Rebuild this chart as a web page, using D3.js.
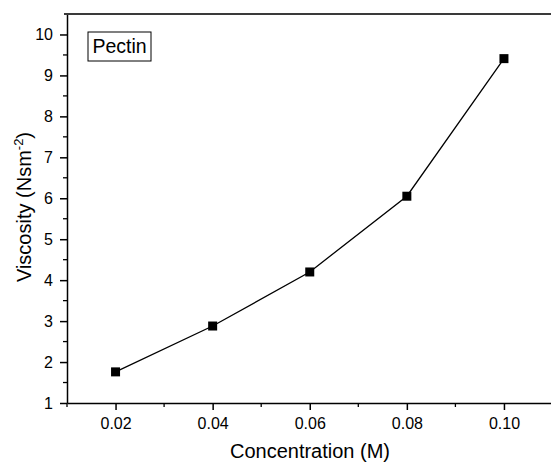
<!DOCTYPE html>
<html>
<head>
<meta charset="utf-8">
<script src="https://cdn.jsdelivr.net/npm/d3@7"></script>
<style>
  body { margin: 0; background: #fff; }
  svg { display: block; font-family: "Liberation Sans", Arial, sans-serif; }
  .axis path, .axis line { stroke: #000; }
</style>
</head>
<body>
<svg id="chart" width="551" height="462"></svg>
<script>
const concentration = [0.02, 0.04, 0.06, 0.08, 0.10];
const viscosity = [1.76, 2.88, 4.20, 6.05, 9.41];
const xTicks = [0.02, 0.04, 0.06, 0.08, 0.10];
const yTicks = [1, 2, 3, 4, 5, 6, 7, 8, 9, 10];

const svg = d3.select('#chart');
const plotL = 67, plotR = 552.5, plotT = 14, plotB = 403;

const x = d3.scaleLinear().domain([0.01, 0.11]).range([plotL, plotR]);
const y = d3.scaleLinear().domain([1, 10.5]).range([plotB, plotT]);

// minor ticks
const xMinor = d3.range(0.01, 0.111, 0.01).filter(v => !xTicks.some(t => Math.abs(t - v) < 1e-9));
const yMinor = d3.range(1.5, 10.5, 1);

svg.append('g')
  .selectAll('line')
  .data(xMinor)
  .join('line')
  .attr('x1', d => x(d)).attr('x2', d => x(d))
  .attr('y1', plotB).attr('y2', plotB + 4)
  .attr('stroke', '#000').attr('stroke-width', 1.3);

svg.append('g')
  .selectAll('line')
  .data(yMinor)
  .join('line')
  .attr('x1', plotL - 4).attr('x2', plotL)
  .attr('y1', d => y(d)).attr('y2', d => y(d))
  .attr('stroke', '#000').attr('stroke-width', 1.3);

const xAxis = svg.append('g')
  .attr('class', 'axis')
  .attr('transform', `translate(0,${plotB})`)
  .call(d3.axisBottom(x).tickValues(xTicks).tickSize(7).tickPadding(8).tickFormat(d3.format('.2f')).tickSizeOuter(0));
xAxis.selectAll('path, line').attr('stroke-width', 1.5);

const yAxis = svg.append('g')
  .attr('class', 'axis')
  .attr('transform', `translate(${plotL},0)`)
  .call(d3.axisLeft(y).tickValues(yTicks).tickSize(7).tickPadding(7).tickFormat(d3.format('d')).tickSizeOuter(0));
yAxis.selectAll('path, line').attr('stroke-width', 1.5);

svg.selectAll('.axis')
  .attr('font-family', '"Liberation Sans", Arial, sans-serif')
  .attr('font-size', 16);

// top frame line
svg.append('line')
  .attr('x1', plotL - 3).attr('x2', 551)
  .attr('y1', plotT).attr('y2', plotT)
  .attr('stroke', '#3a3a3a').attr('stroke-width', 2);

const pts = concentration.map((c, i) => ({c, v: viscosity[i]}));

svg.append('path')
  .datum(pts)
  .attr('fill', 'none')
  .attr('stroke', '#000')
  .attr('stroke-width', 1.3)
  .attr('d', d3.line().x(d => x(d.c)).y(d => y(d.v)));

svg.append('g')
  .selectAll('rect')
  .data(pts)
  .join('rect')
  .attr('x', d => x(d.c) - 4.5)
  .attr('y', d => y(d.v) - 4.5)
  .attr('width', 9).attr('height', 9)
  .attr('fill', '#000');

// axis titles
svg.append('text')
  .attr('x', 310)
  .attr('y', 458)
  .attr('text-anchor', 'middle')
  .attr('font-size', 20)
  .text('Concentration (M)');

const yl = svg.append('text')
  .attr('transform', 'translate(31,207) rotate(-90)')
  .attr('text-anchor', 'middle')
  .attr('font-size', 20);
yl.append('tspan').text('Viscosity (Nsm');
yl.append('tspan').attr('font-size', 13).attr('dy', -8).text('-2');
yl.append('tspan').attr('dy', 8).text(')');

// legend box
const legend = svg.append('g').attr('transform', 'translate(88,32)');
legend.append('rect')
  .attr('width', 63).attr('height', 29)
  .attr('fill', '#fff').attr('stroke', '#000').attr('stroke-width', 1);
legend.append('text')
  .attr('x', 31.5).attr('y', 21)
  .attr('text-anchor', 'middle')
  .attr('font-size', 19.5)
  .text('Pectin');
</script>
</body>
</html>
